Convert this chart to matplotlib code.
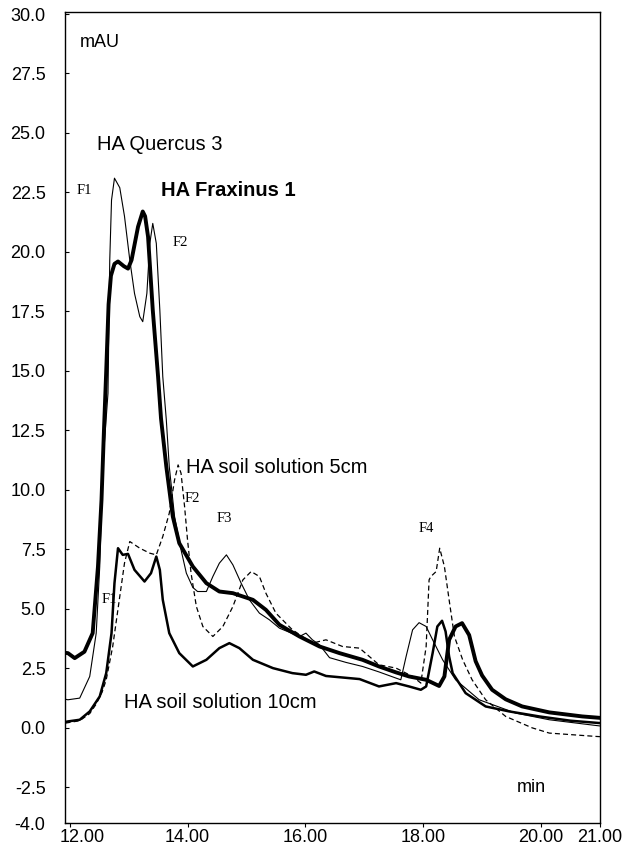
import numpy as np
import matplotlib
matplotlib.use('Agg')
import matplotlib.pyplot as plt
from matplotlib.transforms import ScaledTranslation

# retention time (min) / absorbance (mAU)
quercus_t = [11.93, 11.97, 12.17, 12.34, 12.45, 12.51, 12.56, 12.65, 12.68, 12.71, 12.76, 12.85, 12.93,
             13.02, 13.10, 13.19, 13.24, 13.31, 13.36, 13.41, 13.47, 13.53, 13.58, 13.64, 13.69, 13.78,
             13.89, 13.98, 14.09, 14.17, 14.32, 14.43, 14.54, 14.66, 14.77, 14.91, 15.05, 15.22, 15.39,
             15.56, 15.90, 16.01, 16.12, 16.24, 16.41, 16.69, 16.97, 17.25, 17.54, 17.62, 17.71, 17.82,
             17.93, 18.05, 18.16, 18.33, 18.55, 18.95, 19.57, 20.14, 20.93, 21.00]
quercus_v = [1.20, 1.18, 1.25, 2.16, 3.98, 6.78, 10.98, 14.06, 19.66, 22.18, 23.10, 22.70, 21.50,
             19.66, 18.26, 17.28, 17.07, 18.26, 20.36, 21.20, 20.36, 17.56, 14.76, 12.94, 10.98, 8.88,
             7.48, 6.50, 5.90, 5.73, 5.73, 6.36, 6.92, 7.27, 6.85, 6.08, 5.38, 4.82, 4.54,
             4.19, 3.84, 3.98, 3.70, 3.49, 2.95, 2.75, 2.58, 2.35, 2.09, 2.02, 3.00, 4.12,
             4.42, 4.26, 3.70, 2.86, 2.02, 1.18, 0.62, 0.34, 0.10, 0.08]

fraxinus_t = [11.93, 11.97, 12.085, 12.25, 12.39, 12.48, 12.54, 12.58, 12.62, 12.66, 12.70, 12.76, 12.82,
              12.92, 12.99, 13.05, 13.16, 13.24, 13.28, 13.33, 13.41, 13.50, 13.55, 13.64, 13.75, 13.86,
              14.09, 14.32, 14.54, 14.77, 15.11, 15.33, 15.56, 15.90, 16.24, 16.58, 16.97, 17.25, 17.54,
              17.76, 18.05, 18.27, 18.36, 18.44, 18.55, 18.66, 18.78, 18.89, 19.00, 19.17, 19.40, 19.68,
              20.14, 20.70, 21.00]
fraxinus_v = [3.15, 3.14, 2.93, 3.20, 3.98, 6.78, 9.58, 12.40, 15.00, 17.80, 19.00, 19.50, 19.60,
              19.40, 19.30, 19.66, 21.06, 21.70, 21.50, 20.64, 17.56, 14.76, 13.00, 10.98, 8.88, 7.76,
              6.78, 6.08, 5.73, 5.66, 5.38, 4.96, 4.33, 3.84, 3.42, 3.14, 2.86, 2.58, 2.33,
              2.16, 2.02, 1.76, 2.16, 3.70, 4.26, 4.40, 3.90, 2.80, 2.20, 1.60, 1.20, 0.90,
              0.65, 0.48, 0.42]

soil5_t = [11.93, 12.17, 12.34, 12.45, 12.55, 12.62, 12.73, 12.85, 12.93, 13.02, 13.19, 13.36, 13.47,
           13.58, 13.69, 13.78, 13.84, 13.89, 13.95, 14.00, 14.06, 14.15, 14.26, 14.43, 14.60, 14.77,
           14.94, 15.08, 15.22, 15.33, 15.50, 15.78, 16.12, 16.35, 16.63, 16.92, 17.25, 17.54, 17.82,
           17.96, 18.05, 18.10, 18.13, 18.22, 18.28, 18.36, 18.44, 18.53, 18.67, 18.83, 19.06, 19.40,
           19.85, 20.14, 20.93, 21.00]
soil5_v = [0.20, 0.30, 0.60, 1.00, 1.50, 2.02, 3.42, 5.52, 6.92, 7.83, 7.55, 7.34, 7.27,
           8.04, 9.02, 10.42, 11.05, 10.70, 9.30, 7.90, 6.50, 5.10, 4.26, 3.84, 4.26, 5.10,
           6.22, 6.57, 6.36, 5.66, 4.82, 4.12, 3.56, 3.70, 3.42, 3.35, 2.65, 2.51, 2.16,
           1.88, 3.42, 6.22, 6.36, 6.57, 7.55, 6.78, 5.38, 3.84, 2.86, 2.02, 1.18, 0.48,
           0.00, -0.22, -0.36, -0.37]

soil10_t = [11.93, 11.97, 12.17, 12.34, 12.51, 12.62, 12.71, 12.76, 12.82, 12.90, 12.99, 13.10, 13.27,
            13.38, 13.47, 13.53, 13.58, 13.69, 13.86, 14.09, 14.32, 14.54, 14.71, 14.88, 15.11, 15.45,
            15.78, 16.01, 16.15, 16.35, 16.92, 17.25, 17.54, 17.76, 17.96, 18.05, 18.16, 18.24, 18.32,
            18.38, 18.44, 18.50, 18.72, 19.06, 19.46, 19.97, 20.50, 21.00]
soil10_v = [0.25, 0.27, 0.34, 0.69, 1.32, 2.30, 3.98, 6.08, 7.55, 7.27, 7.31, 6.64, 6.15,
            6.50, 7.20, 6.64, 5.38, 3.98, 3.14, 2.58, 2.86, 3.35, 3.56, 3.35, 2.86, 2.51,
            2.30, 2.23, 2.37, 2.18, 2.05, 1.74, 1.88, 1.74, 1.60, 1.74, 3.14, 4.26, 4.50,
            4.05, 3.00, 2.30, 1.46, 0.90, 0.69, 0.48, 0.30, 0.20]

yticks = [30.0, 27.5, 25.0, 22.5, 20.0, 17.5, 15.0, 12.5, 10.0, 7.5, 5.0, 2.5, 0.0, -2.5, -4.0]
xticks = [12, 14, 16, 18, 20, 21]

sans = 'Liberation Sans'
serif = 'Liberation Serif'

fig = plt.figure(figsize=(6.23, 8.52), dpi=100)
ax = fig.add_axes([0.1043, 0.034, 0.8587, 0.9518])

ax.plot(quercus_t, quercus_v, color='black', lw=0.8)
ax.plot(soil5_t, soil5_v, color='black', lw=0.9, linestyle=(0, (4, 2.5)))
ax.plot(soil10_t, soil10_v, color='black', lw=1.8)
ax.plot(fraxinus_t, fraxinus_v, color='black', lw=2.8)

ax.set_xlim(11.92, 21.0)
ax.set_ylim(-4.0, 30.08)
ax.set_yticks(yticks)
ax.set_yticklabels(['%.1f' % v for v in yticks], fontfamily=sans, fontsize=13)
ax.set_xticks(xticks)
ax.set_xticklabels(['%.2f' % v for v in xticks], fontfamily=sans, fontsize=13)
ax.tick_params(axis='y', direction='in', length=3, pad=14)
ax.tick_params(axis='x', direction='out', length=3, pad=1)
for s in ax.spines.values():
    s.set_linewidth(1.0)

# the first x label sits a bit right of its tick in the original
lab = ax.get_xticklabels()[0]
lab.set_transform(lab.get_transform() + ScaledTranslation(0.12, 0, fig.dpi_scale_trans))

# labels inside the plot
ax.text(12.17, 28.8, 'mAU', fontfamily=sans, fontsize=13, va='center')
ax.text(19.59, -2.52, 'min', fontfamily=sans, fontsize=13, va='center')
ax.text(12.47, 24.5, 'HA Quercus 3', fontfamily=sans, fontsize=14.5, va='center')
ax.text(13.55, 22.57, 'HA Fraxinus 1', fontfamily=sans, fontsize=14.5, fontweight='bold', va='center')
ax.text(13.97, 10.95, 'HA soil solution 5cm', fontfamily=sans, fontsize=14.5, va='center')
ax.text(12.93, 1.07, 'HA soil solution 10cm', fontfamily=sans, fontsize=14.5, va='center')

ax.text(12.11, 22.6, 'F1', fontfamily=serif, fontsize=10.5, va='center')
ax.text(13.74, 20.4, 'F2', fontfamily=serif, fontsize=10.5, va='center')
ax.text(13.95, 9.62, 'F2', fontfamily=serif, fontsize=10.5, va='center')
ax.text(14.49, 8.79, 'F3', fontfamily=serif, fontsize=10.5, va='center')
ax.text(17.93, 8.36, 'F4', fontfamily=serif, fontsize=10.5, va='center')
ax.text(12.55, 5.38, 'F1', fontfamily=serif, fontsize=10.5, va='center')

fig.savefig('out.png', dpi=100)
